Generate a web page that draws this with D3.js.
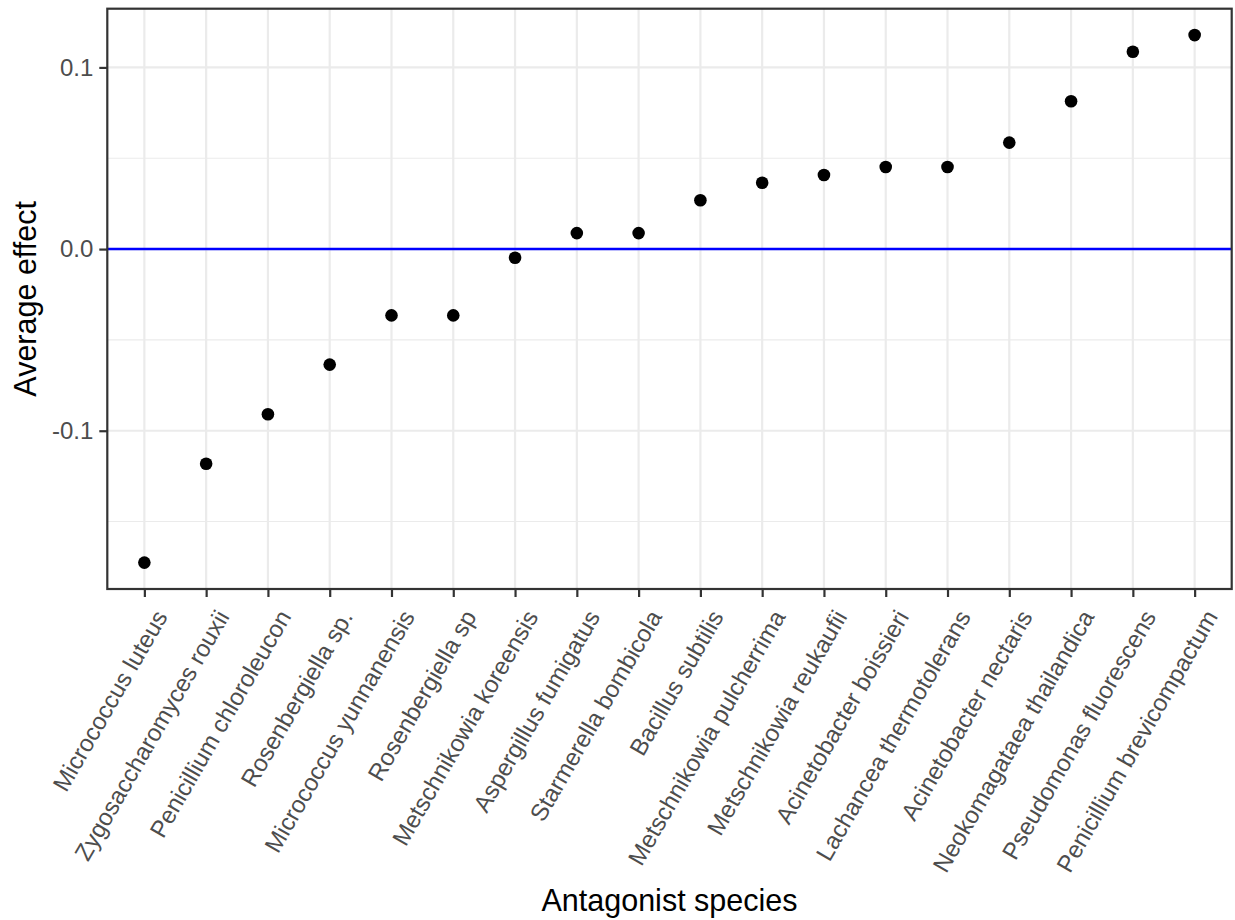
<!DOCTYPE html>
<html>
<head>
<meta charset="utf-8">
<script src="https://cdn.jsdelivr.net/npm/d3@7"></script>
<style>
  html, body { margin: 0; padding: 0; background: #fff; }
  svg { display: block; }
  text { font-family: "Liberation Sans", Arial, Helvetica, sans-serif; }
</style>
</head>
<body>
<svg id="chart" width="1235" height="920"></svg>
<script>
const species = [
  "Micrococcus luteus", "Zygosaccharomyces rouxii", "Penicillium chloroleucon",
  "Rosenbergiella sp.", "Micrococcus yunnanensis", "Rosenbergiella sp",
  "Metschnikowia koreensis", "Aspergillus fumigatus", "Starmerella bombicola",
  "Bacillus subtilis", "Metschnikowia pulcherrima", "Metschnikowia reukaufii",
  "Acinetobacter boissieri", "Lachancea thermotolerans", "Acinetobacter nectaris",
  "Neokomagataea thailandica", "Pseudomonas fluorescens", "Penicillium brevicompactum"
];
const avgEffect = [
  -0.1726, -0.1182, -0.0909, -0.0636, -0.0365, -0.0365,
  -0.0048, 0.0088, 0.0088, 0.0269, 0.0365, 0.0408,
  0.0452, 0.0452, 0.0586, 0.0814, 0.1086, 0.1178
];
const yTickValues = [-0.1, 0.0, 0.1];
const yTickLabels = ["-0.1", "0.0", "0.1"];
const yMinorValues = [-0.15, -0.05, 0.05];
const xTitle = "Antagonist species";
const yTitle = "Average effect";

const svg = d3.select("#chart");
const panel = { left: 107.3, right: 1231.7, top: 8.7, bottom: 589 };

// discrete x scale with ggplot-like 0.6 expansion
const n = species.length;
const xIdx = d3.scaleLinear().domain([1 - 0.6, n + 0.6]).range([panel.left, panel.right]);
const x = name => xIdx(species.indexOf(name) + 1);

const ext = d3.extent(avgEffect);
const pad = (ext[1] - ext[0]) * 0.05;
const y = d3.scaleLinear().domain([ext[0] - pad, ext[1] + pad]).range([panel.bottom, panel.top]);

const data = species.map((s, i) => ({ s, v: avgEffect[i] }));

// panel background
svg.append("rect").attr("x", panel.left).attr("y", panel.top)
  .attr("width", panel.right - panel.left).attr("height", panel.bottom - panel.top)
  .attr("fill", "#fff");

const grid = svg.append("g");
grid.selectAll(".minor").data(yMinorValues).join("line")
  .attr("x1", panel.left).attr("x2", panel.right)
  .attr("y1", d => y(d)).attr("y2", d => y(d))
  .attr("stroke", "#EBEBEB").attr("stroke-width", 1.1);
grid.selectAll(".majy").data(yTickValues).join("line")
  .attr("x1", panel.left).attr("x2", panel.right)
  .attr("y1", d => y(d)).attr("y2", d => y(d))
  .attr("stroke", "#EBEBEB").attr("stroke-width", 2.2);
grid.selectAll(".majx").data(species).join("line")
  .attr("x1", d => x(d)).attr("x2", d => x(d))
  .attr("y1", panel.top).attr("y2", panel.bottom)
  .attr("stroke", "#EBEBEB").attr("stroke-width", 2.2);

// zero line
svg.append("line")
  .attr("x1", panel.left).attr("x2", panel.right)
  .attr("y1", y(0)).attr("y2", y(0))
  .attr("stroke", "#0000FF").attr("stroke-width", 2.6);

// points
svg.append("g").selectAll("circle").data(data).join("circle")
  .attr("cx", d => x(d.s)).attr("cy", d => y(d.v))
  .attr("r", 6.3).attr("fill", "#000");

// panel border
svg.append("rect").attr("x", panel.left).attr("y", panel.top)
  .attr("width", panel.right - panel.left).attr("height", panel.bottom - panel.top)
  .attr("fill", "none").attr("stroke", "#333333").attr("stroke-width", 2.2);

// y axis
const yAxis = d3.axisLeft(y).tickValues(yTickValues)
  .tickFormat((d, i) => yTickLabels[i]).tickSize(8).tickPadding(6);
const gy = svg.append("g").attr("transform", `translate(${panel.left},0)`).call(yAxis);
gy.select(".domain").remove();
gy.selectAll(".tick line").attr("stroke", "#333333").attr("stroke-width", 2.2);
gy.selectAll(".tick text").attr("fill", "#4D4D4D").attr("font-size", 24)
  .attr("font-family", '"Liberation Sans", Arial, sans-serif');

// x axis
const xBand = d3.scalePoint().domain(species)
  .range([xIdx(1), xIdx(n)]);
const xAxis = d3.axisBottom(xBand).tickSize(8).tickPadding(6);
const gx = svg.append("g").attr("transform", `translate(0,${panel.bottom})`).call(xAxis);
gx.select(".domain").remove();
gx.selectAll(".tick line").attr("stroke", "#333333").attr("stroke-width", 2.2);
gx.selectAll(".tick text")
  .attr("fill", "#4D4D4D").attr("font-size", 24)
  .attr("font-family", '"Liberation Sans", Arial, sans-serif')
  .attr("text-anchor", "end")
  .attr("x", 0).attr("y", 0).attr("dy", "1.13em")
  .attr("transform", "translate(0,14) rotate(-60)");

// titles
svg.append("text").attr("x", (panel.left + panel.right) / 2).attr("y", 911)
  .attr("text-anchor", "middle").attr("font-size", 30.5).attr("fill", "#000")
  .text(xTitle);
svg.append("text")
  .attr("transform", `translate(36,${(panel.top + panel.bottom) / 2}) rotate(-90)`)
  .attr("text-anchor", "middle").attr("font-size", 30.5).attr("fill", "#000")
  .text(yTitle);
</script>
</body>
</html>
